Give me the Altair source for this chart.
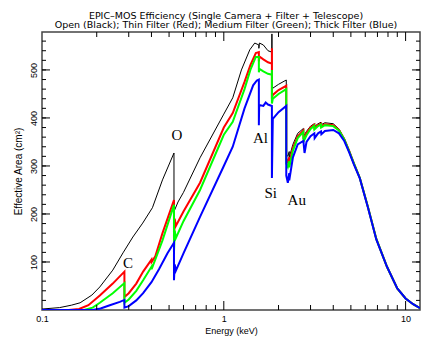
import altair as alt
import pandas as pd

# ---------------- data ----------------
open_e = [0.10, 0.125, 0.145, 0.162, 0.188, 0.208, 0.245, 0.279, 0.316, 0.358, 0.405, 0.46, 0.532,
          0.5321, 0.56, 0.60, 0.74, 1.0, 1.12, 1.25, 1.39, 1.48, 1.559, 1.5591, 1.57, 1.65, 1.75, 1.839,
          1.8391, 1.8392, 1.86, 2.0, 2.206, 2.2061, 2.25, 2.29, 2.291, 2.4, 2.55, 2.74, 2.743, 2.85, 3.0,
          3.148, 3.15, 3.3, 3.425, 3.43, 3.6, 4.0, 4.3, 4.6, 4.9, 5.2, 5.6, 6.2, 6.9, 7.9, 9.0, 10.0, 11.0, 12.0]
open_v = [2, 5, 10, 15, 31, 48, 83, 119, 152, 181, 213, 271, 327,
          205, 225, 245, 317, 408, 442, 500, 542, 556, 552, 545, 556, 552, 540, 537,
          575, 470, 462, 470, 479, 325, 320, 330, 318, 345, 368, 378, 362, 372, 383,
          388, 382, 388, 391, 386, 390, 388, 377, 357, 332, 306, 276, 216, 148, 90, 45, 24, 12, 4]

thin_e = [0.10, 0.14, 0.16, 0.18, 0.208, 0.245, 0.284, 0.2841, 0.30, 0.33, 0.36, 0.40, 0.401, 0.42, 0.46,
          0.532, 0.5321, 0.537, 0.545, 0.60, 0.74, 1.0, 1.12, 1.3, 1.4, 1.5, 1.559, 1.5591, 1.57, 1.65, 1.75,
          1.839, 1.8391, 1.8392, 1.86, 2.0, 2.206, 2.2061, 2.25, 2.29, 2.291, 2.4, 2.55, 2.74, 2.743, 2.85,
          3.0, 3.148, 3.15, 3.3, 3.425, 3.43, 3.6, 4.0, 4.3, 4.6, 4.9, 5.2, 5.6, 6.2, 6.9, 7.9, 9.0, 10.0, 11.0, 12.0]
thin_v = [0, 0, 2, 10, 30, 55, 80, 27, 35, 55, 80, 105, 100, 112, 160,
          229, 142, 190, 175, 205, 265, 380, 410, 475, 510, 535, 537, 518, 528, 522, 516,
          513, 545, 440, 448, 458, 467, 315, 308, 318, 306, 338, 362, 374, 356, 368,
          380, 386, 379, 385, 388, 383, 387, 385, 375, 356, 331, 305, 275, 215, 148, 90, 45, 24, 12, 4]

med_e = [0.10, 0.17, 0.19, 0.208, 0.245, 0.284, 0.2841, 0.30, 0.33, 0.36, 0.40, 0.401, 0.46,
         0.532, 0.5321, 0.537, 0.545, 0.60, 0.74, 1.0, 1.12, 1.3, 1.4, 1.5, 1.559, 1.5591, 1.57, 1.65, 1.75,
         1.839, 1.8391, 1.8392, 1.86, 2.0, 2.206, 2.2061, 2.25, 2.29, 2.291, 2.4, 2.55, 2.74, 2.743, 2.85,
         3.0, 3.148, 3.15, 3.3, 3.425, 3.43, 3.6, 4.0, 4.3, 4.6, 4.9, 5.2, 5.6, 6.2, 6.9, 7.9, 9.0, 10.0, 11.0, 12.0]
med_v = [0, 0, 5, 15, 35, 56, 15, 22, 40, 62, 90, 85, 145,
         219, 120, 165, 150, 185, 250, 365, 392, 460, 500, 527, 527, 495, 502, 497, 492,
         490, 500, 430, 440, 450, 460, 305, 298, 310, 297, 332, 358, 371, 350, 364,
         377, 384, 376, 383, 386, 380, 385, 383, 374, 355, 330, 305, 275, 215, 148, 90, 45, 24, 12, 4]

thick_e = [0.10, 0.19, 0.21, 0.236, 0.268, 0.284, 0.2841, 0.30, 0.33, 0.36, 0.40, 0.44, 0.49,
           0.532, 0.5321, 0.537, 0.545, 0.60, 0.74, 1.0, 1.12, 1.3, 1.45, 1.52, 1.559, 1.5591, 1.565, 1.65, 1.7,
           1.75, 1.839, 1.8391, 1.86, 2.0, 2.206, 2.2061, 2.25, 2.29, 2.291, 2.4, 2.55, 2.74, 2.78, 2.85,
           3.0, 3.148, 3.16, 3.3, 3.425, 3.44, 3.6, 4.0, 4.3, 4.6, 4.9, 5.2, 5.6, 6.2, 6.9, 7.9, 9.0, 10.0, 11.0, 12.0]
thick_v = [0, 0, 3, 10, 17, 21, 5, 8, 20, 35, 58, 85, 118,
           140, 62, 95, 82, 118, 194, 300, 340, 420, 468, 478, 480, 385, 427, 425, 432,
           428, 425, 275, 398, 412, 425, 280, 265, 285, 270, 318, 345, 352, 327, 350,
           362, 368, 358, 368, 372, 366, 373, 375, 368, 352, 328, 303, 274, 214, 147, 90, 45, 24, 12, 4]

series_names = ["Open", "Thin", "Medium", "Thick"]
series_colors = ["#000000", "#ff0000", "#00ff00", "#0000ff"]
series_widths = [1, 2, 2, 2]

# annotations (edge labels)
edge_labels = ["C", "O", "Al", "Si", "Au"]
edge_e = [0.297, 0.552, 1.59, 1.81, 2.52]
edge_v = [98, 365, 358, 244, 229]

# tick positions
x_minor = [0.2, 0.3, 0.4, 0.5, 0.6, 0.7, 0.8, 0.9, 2, 3, 4, 5, 6, 7, 8, 9]
x_major = [1, 10]
x_labels = [0.1, 1, 10]
y_minor = list(range(20, 580, 20))
y_major = [100, 200, 300, 400, 500]

W, H = 378, 278
xscale = alt.Scale(type="log", domain=[0.1, 12.0], nice=False)
yscale = alt.Scale(domain=[0, 579], nice=False, zero=False)

font = "Liberation Sans"
tfont = "DejaVu Sans"

xaxis = alt.Axis(values=x_labels, ticks=False, domain=False, grid=False,
                 labelExpr="datum.value == 0.1 ? '0.1' : format(datum.value, 'd')",
                 labelFont=font, labelFontSize=9, labelColor="#000", labelPadding=4, labelFlush=False,
                 title="Energy (keV)", titleFont=font, titleFontSize=9, titleFontWeight="normal",
                 titleColor="#000", titlePadding=3)
yaxis = alt.Axis(values=y_major, ticks=False, domain=False, grid=False, labelAngle=270, labelAlign="center",
                 labelBaseline="bottom", labelFont=font, labelFontSize=9, labelColor="#000", labelPadding=4,
                 title="Effective Area (cm²)", titleFont=font, titleFontSize=10, titleFontWeight="normal",
                 titleColor="#000", titlePadding=6)

ex = alt.X("e:Q", scale=xscale, axis=xaxis)
ey = alt.Y("v:Q", scale=yscale, axis=yaxis)

layers = []
for k, (es, vs) in enumerate([(open_e, open_v), (thin_e, thin_v), (med_e, med_v), (thick_e, thick_v)]):
    df = pd.DataFrame({"e": es, "v": vs, "i": list(range(len(es)))})
    layers.append(
        alt.Chart(df).mark_line(color=series_colors[k], strokeWidth=series_widths[k], clip=True,
                                interpolate="linear")
        .encode(x=ex, y=ey, order="i:Q")
    )

# tick rules (inward ticks on all four sides)
def xticks(vals, length):
    d = pd.DataFrame({"e": vals})
    bot = alt.Chart(d).mark_rule(color="#000", strokeWidth=1).encode(
        x=ex, y=alt.value(H), y2=alt.value(H - length))
    top = alt.Chart(d).mark_rule(color="#000", strokeWidth=1).encode(
        x=ex, y=alt.value(0), y2=alt.value(length))
    return [bot, top]

def yticks(vals, length):
    d = pd.DataFrame({"v": vals})
    left = alt.Chart(d).mark_rule(color="#000", strokeWidth=1).encode(
        y=ey, x=alt.value(0), x2=alt.value(length))
    right = alt.Chart(d).mark_rule(color="#000", strokeWidth=1).encode(
        y=ey, x=alt.value(W), x2=alt.value(W - length))
    return [left, right]

tick_layers = xticks(x_minor, 5) + xticks(x_major, 9) + yticks(y_minor, 4) + yticks(y_major, 8)

ann = alt.Chart(pd.DataFrame({"t": edge_labels, "e": edge_e, "v": edge_v})).mark_text(
    font="Liberation Serif", fontSize=15, color="#000", align="center", baseline="middle").encode(
    x=ex, y=ey, text="t:N")

chart = alt.layer(*layers, *tick_layers, ann).properties(
    width=W, height=H,
    autosize=alt.AutoSizeParams(type="none"),
    padding={"left": 34, "top": 24, "right": 8, "bottom": 32},
    title=alt.TitleParams(
        text="EPIC\u2013MOS Efficiency (Single Camera + Filter + Telescope)",
        subtitle="Open (Black); Thin Filter (Red); Medium Filter (Green); Thick Filter (Blue)",
        font=tfont, fontSize=9.5, fontWeight="normal", color="#000",
        subtitleFont=tfont, subtitleFontSize=9.5, subtitleColor="#000", subtitlePadding=0,
        anchor="middle", offset=2, dx=-5),
).configure(background="white").configure_view(stroke="#444", strokeWidth=1.5)

chart.save("out.html", embed_options={"renderer": "svg", "actions": False})
